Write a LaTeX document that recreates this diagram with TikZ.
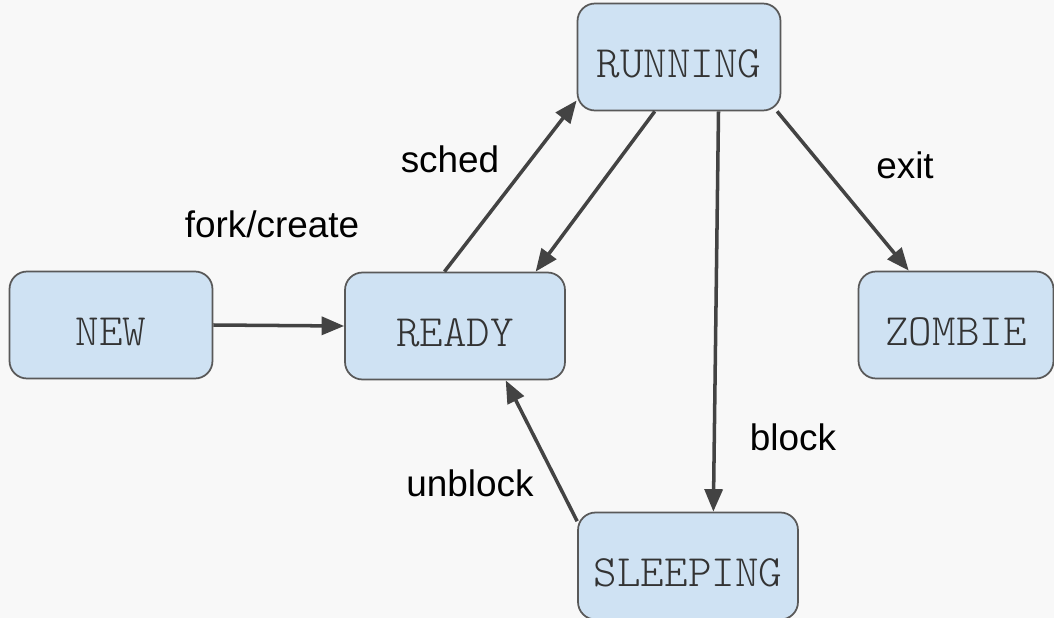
\documentclass[tikz,border=0pt]{standalone}
\usepackage{fontspec}
\setmainfont{Liberation Sans}
\setmonofont{Latin Modern Mono Light}
\usetikzlibrary{arrows.meta}
\definecolor{boxfill}{HTML}{CFE2F3}
\definecolor{boxline}{HTML}{595959}
\definecolor{arrowgray}{HTML}{434343}
\definecolor{paper}{HTML}{F8F8F8}

\begin{document}
\begin{tikzpicture}[x=0.02cm,y=-0.02cm,
		state/.style={draw=boxline,fill=boxfill,line width=1pt,rounded corners=0.35cm,minimum width=4.06cm,minimum height=2.14cm,inner sep=0pt,text height=23pt,text depth=0pt,text=black!80,font=\ttfamily\fontsize{25.5}{30}\selectfont},
		lbl/.style={inner sep=0pt,font=\fontsize{21}{25}\selectfont},
		every edge/.style={draw=arrowgray,line width=2pt,-{Triangle[length=0.45cm,width=0.36cm]}}]
		\fill[paper] (0,0) rectangle (1054,618);
		\useasboundingbox (0,0) rectangle (1054,618);
		
		\node[state] (new) at (111,325) {NEW};
		\node[state,minimum width=4.4cm] (ready) at (455,326) {READY};
		\node[state] (running) at (679,57) {RUNNING};
		\node[state,minimum width=3.9cm] (zombie) at (956,325) {ZOMBIE};
		\node[state,minimum width=4.4cm] (sleeping) at (688,566) {SLEEPING};
		
		\node[lbl] (lfork) at (272,224) {fork/create};
		\node[lbl] (lsched) at (450,159) {sched};
		\node[lbl] (lexit) at (905,165) {exit};
		\node[lbl] (lblock) at (793,437) {block};
		\node[lbl] (lunblock) at (470,483) {unblock};
		
		\draw (new.east) edge (ready.west);
		\draw (ready.101) edge (running.203);
		\draw (running.246) edge (ready.34);
		\draw (running.306) edge (sleeping.65);
		\draw (running.331) edge (zombie.131);
		\draw (sleeping.158) edge (ready.313);
	\end{tikzpicture}
\end{document}
